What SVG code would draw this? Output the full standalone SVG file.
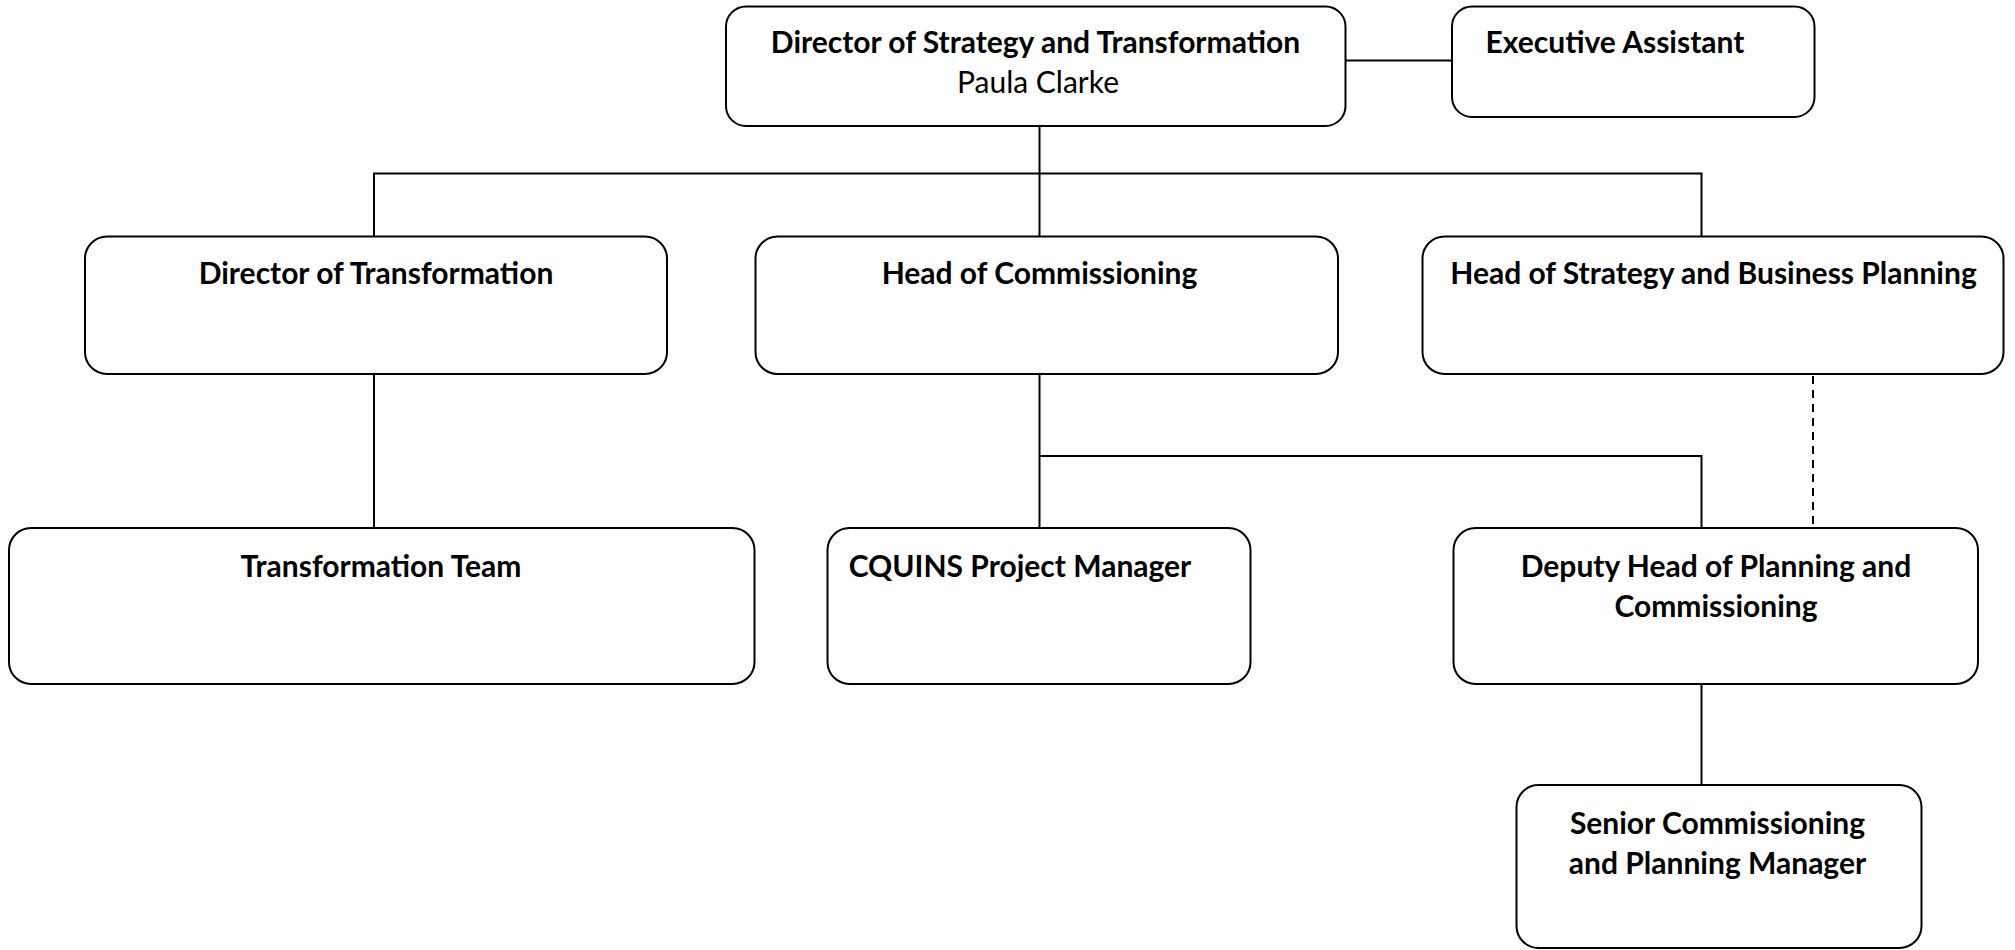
<svg xmlns="http://www.w3.org/2000/svg" width="2015" height="950" viewBox="0 0 2015 950">
<style>
.box{fill:#fff;stroke:#000;stroke-width:2}
.t{font-family:Lato,"Liberation Sans",sans-serif;font-weight:700;font-size:30px;fill:#000;text-anchor:middle}
.n{font-family:Lato,"Liberation Sans",sans-serif;font-weight:400;font-size:30px;fill:#000;text-anchor:middle}
.c{fill:none;stroke:#000;stroke-width:2}
.d{fill:none;stroke:#000;stroke-width:2;stroke-dasharray:8 6}
</style>
<rect width="2015" height="950" fill="#fff"/>
<g id="connectors">
<path class="c" d="M1346 60.5H1452"/>
<path class="c" d="M1039.5 126V236.5"/>
<path class="c" d="M374 236.5V173.5H1701.5V236.5"/>
<path class="c" d="M374 374V528"/>
<path class="c" d="M1039.5 374V528"/>
<path class="c" d="M1039.5 456H1701.5V528"/>
<path class="d" d="M1813 376V528"/>
<path class="c" d="M1701.5 684V785"/>
</g>
<g id="director-strategy">
<rect class="box" x="726" y="6.5" width="619.5" height="119.5" rx="20"/>
<text class="t" x="1035.5" y="52.5">Director of Strategy and Transformation</text>
<text class="n" x="1038" y="92.5">Paula Clarke</text>
</g>
<g id="exec-assistant">
<rect class="box" x="1452" y="6.5" width="362.5" height="110.5" rx="20"/>
<text class="t" x="1615" y="52.5">Executive Assistant</text>
</g>
<g id="director-transformation">
<rect class="box" x="85" y="236.5" width="582" height="137.5" rx="22"/>
<text class="t" x="376" y="284">Director of Transformation</text>
</g>
<g id="head-commissioning">
<rect class="box" x="755.5" y="236.5" width="582.5" height="137.5" rx="22"/>
<text class="t" x="1039.5" y="284">Head of Commissioning</text>
</g>
<g id="head-strategy">
<rect class="box" x="1422.5" y="236.5" width="581" height="137.5" rx="22"/>
<text class="t" x="1713.5" y="284">Head of Strategy and Business Planning</text>
</g>
<g id="transformation-team">
<rect class="box" x="9" y="528" width="745.5" height="156" rx="22"/>
<text class="t" x="381" y="577">Transformation Team</text>
</g>
<g id="cquins">
<rect class="box" x="827.5" y="528" width="423" height="156" rx="22"/>
<text class="t" x="1020" y="577">CQUINS Project Manager</text>
</g>
<g id="deputy-head">
<rect class="box" x="1453.5" y="528" width="524.5" height="156" rx="22"/>
<text class="t" x="1716" y="577">Deputy Head of Planning and</text>
<text class="t" x="1716" y="617">Commissioning</text>
</g>
<g id="senior-manager">
<rect class="box" x="1516.5" y="785" width="405" height="163" rx="22"/>
<text class="t" x="1717.5" y="834">Senior Commissioning</text>
<text class="t" x="1717.5" y="874">and Planning Manager</text>
</g>
</svg>
